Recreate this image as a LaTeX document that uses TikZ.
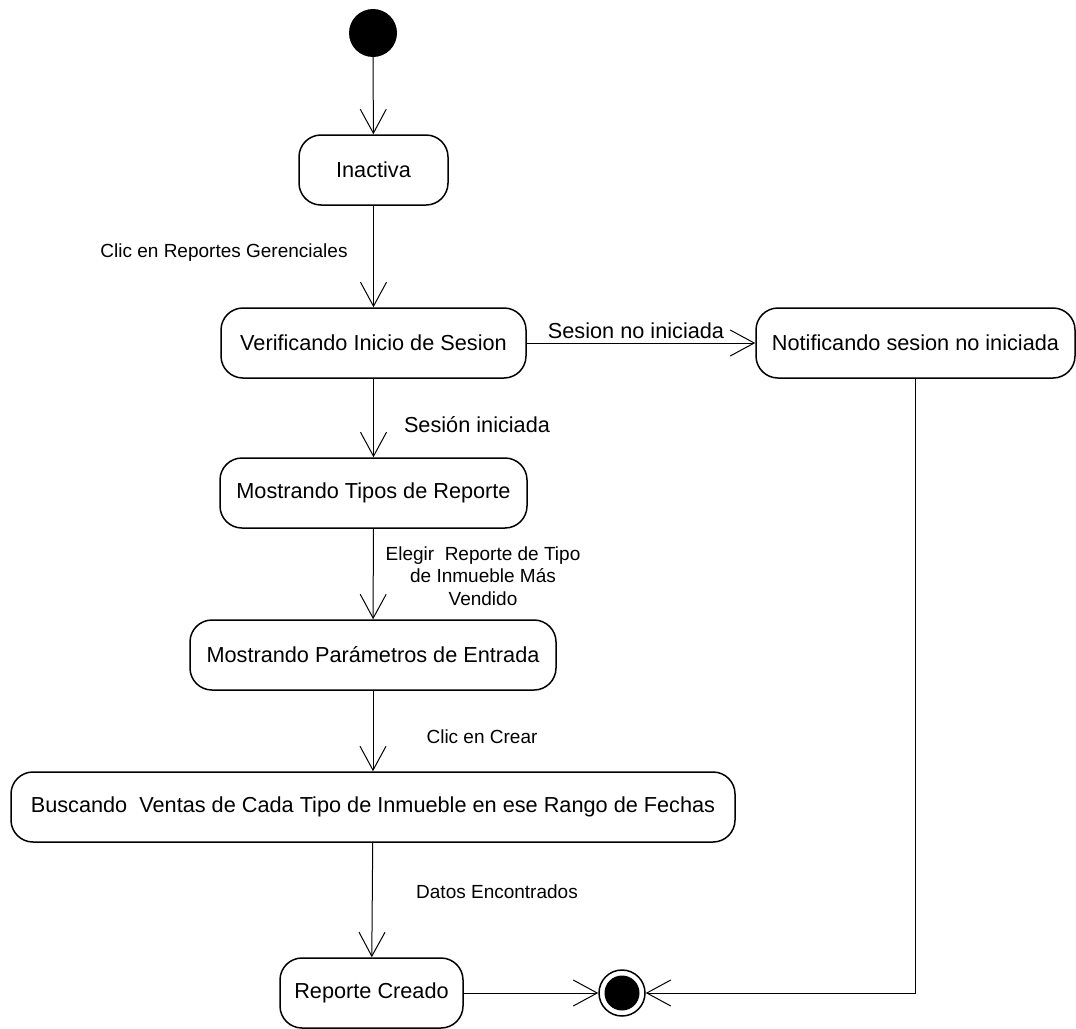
\documentclass[tikz,border=0pt]{standalone}
\usepackage{fontspec}
\setmainfont{Liberation Sans}
\usetikzlibrary{arrows.meta}
\begin{document}
\begin{tikzpicture}[x=1pt,y=-1pt,
  state/.style={draw, line width=1.5pt, rounded corners=22pt, minimum height=70pt,
    inner sep=0pt, font=\fontsize{21.7}{26}\selectfont},
  flow/.style={draw, line width=1pt, -{Straight Barb[length=24pt,width=26pt,line width=1pt]}},
  lbl/.style={font=\fontsize{19}{22.5}\selectfont, align=center, inner sep=0pt},
  biglbl/.style={font=\fontsize{21.7}{26}\selectfont, inner sep=0pt}]
\useasboundingbox (0,0) rectangle (1076,1028);

% initial and final pseudo-states
\node[circle, fill=black, minimum size=48pt, inner sep=0pt] (init) at (373,33) {};
\node[circle, draw, line width=1.5pt, minimum size=46pt, inner sep=0pt] (fin) at (622,993) {};
\fill (fin.center) circle (17.5pt);

% states
\node[state, minimum width=149pt] (inact)  at (373.5,170) {Inactiva};
\node[state, minimum width=305pt] (verif)  at (373.5,343) {Verificando Inicio de Sesion};
\node[state, minimum width=319pt] (notif)  at (915.5,343) {Notificando sesion no iniciada};
\node[state, minimum width=307pt] (tipos)  at (373.5,493) {Mostrando Tipos de Reporte};
\node[state, minimum width=366pt] (param)  at (373,655) {Mostrando Parámetros de Entrada};
\node[state, minimum width=724pt] (busca)  at (373,807) {Buscando\ \ Ventas de Cada Tipo de Inmueble en ese Rango de Fechas};
\node[state, minimum width=183pt] (report) at (371.5,993) {Reporte Creado};

% transitions
\draw[flow] (init) -- (inact);
\draw[flow] (inact) -- (verif);
\draw[flow] (verif) -- (notif);
\draw[flow] (verif) -- (tipos);
\draw[flow] (tipos) -- (param);
\draw[flow] (param) -- (busca);
\draw[flow] (busca) -- (report);
\draw[flow] (report) -- (fin);
\draw[flow] (notif) |- (fin);

% transition labels
\node[lbl] (l1) at (224,253) {Clic en Reportes Gerenciales};
\node[biglbl] (l2) at (636,331) {Sesion no iniciada};
\node[biglbl] (l3) at (477,425) {Sesión iniciada};
\node[lbl] (l4) at (483,576) {Elegir\ \ Reporte de Tipo\\de Inmueble Más\\Vendido};
\node[lbl] (l5) at (482,737) {Clic en Crear};
\node[lbl] (l6) at (497,892) {Datos Encontrados};
\end{tikzpicture}
\end{document}
